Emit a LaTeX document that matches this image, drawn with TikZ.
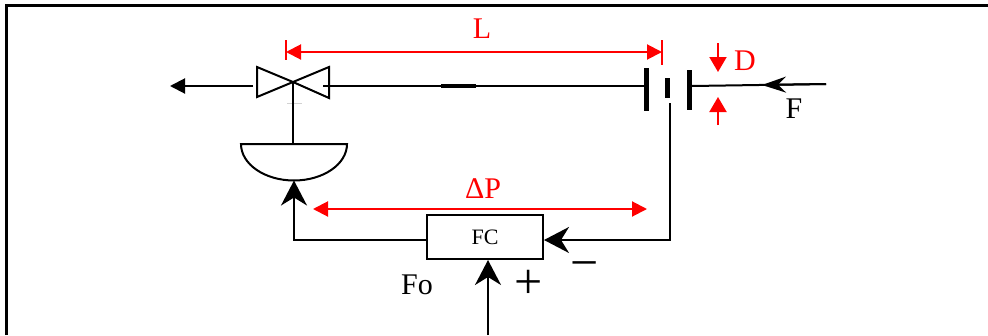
\documentclass[tikz,border=0pt]{standalone}
\usepackage{fontspec}
\setmainfont{Liberation Serif}
\usetikzlibrary{arrows.meta,calc}
\begin{document}
\begin{tikzpicture}[x=1pt,y=-1pt,line width=2pt,
  lbl/.style={font=\fontsize{30}{32}\selectfont,inner sep=0pt},
  redlbl/.style={lbl,text=red},
  sign/.style={font=\fontsize{50}{52}\selectfont,inner sep=0pt},
  bigarrow/.style={-{Stealth[length=25pt,width=26pt,inset=8pt]}},
  farrow/.style={-{Stealth[length=24pt,width=16pt,inset=8pt]}},
  outarrow/.style={-{Triangle[length=15pt,width=15pt]}},
  dimarrows/.style={red,{Triangle[length=15pt,width=15pt]}-{Triangle[length=15pt,width=15pt]}},
  darrow/.style={red,-{Triangle[length=15pt,width=17pt]}},
  bar/.style={fill=black}
]
\useasboundingbox (0,0) rectangle (988,335);
% frame
\draw[line width=3pt] (6,335) -- (6,5) -- (988,5);

% valve
\coordinate (vc) at (293,82);
\draw (257,67) -- (257,97) -- (vc) -- cycle;
\draw (329,67) -- (329,98) -- (vc) -- cycle;
\coordinate (vl) at (253,86);
\coordinate (vr) at (323,86);
\coordinate (outend) at (170,86);
\draw[outarrow] (vl) -- (outend);
\draw[gray!35,line width=1pt] (287,103) -- (302,103);

% actuator
\coordinate (acttop) at (293,144);
\coordinate (actbot) at (294,180.5);
\draw (vc) -- (acttop);
\draw (241,144) -- (347,144) arc[start angle=0,end angle=180,x radius=53,y radius=36.5] -- cycle;

% orifice plates
\fill[bar] (644,68) rectangle (649,111);
\fill[bar] (665,78) rectangle (670,98);
\fill[bar] (687,70) rectangle (692,110);
\coordinate (lb) at (644,86);
\coordinate (rb) at (692,86);
\coordinate (mb) at (670,103);
\draw (vr) -- (lb);
\draw[line width=4pt] (441,86) -- (476,86);

% incoming flow F
\coordinate (fend) at (826,84);
\coordinate (ftip) at (762,85);
\draw (rb) -- (fend);
\draw[farrow] (fend) -- (ftip);
\node[lbl] (Flbl) at (794,109) {F};

% dimension D
\draw[darrow] (718,43) -- (718,72);
\draw[darrow] (718,125) -- (718,97);
\node[redlbl] (Dlbl) at (745,61) {D};

% dimension L
\draw[red] (286,40) -- (286,60);
\draw[red] (662,40) -- (662,65);
\draw[dimarrows] (286,52) -- (662,52);
\node[redlbl] (Llbl) at (482,29) {L};

% controller
\node[draw,minimum width=116pt,minimum height=44pt,inner sep=0pt,font=\fontsize{22}{24}\selectfont] (fc) at (485,237) {FC};
\draw[bigarrow] (mb) |- ($(fc.east)+(0,3)$);
\draw[bigarrow] ($(fc.west)+(0,3)$) -| (actbot);
\coordinate (fo) at (488,335);
\draw[bigarrow] (fo) -- (fo |- fc.south);

% dimension dP
\draw[dimarrows] (313,209) -- (647,209);
\node[redlbl] (dplbl) at (483,189) {ΔP};

\node[lbl] (Folbl) at (417,285) {Fo};
\node[sign] (minus) at (585,271) {−};
\node[sign] (plus) at (529,284) {+};
\end{tikzpicture}
\end{document}
